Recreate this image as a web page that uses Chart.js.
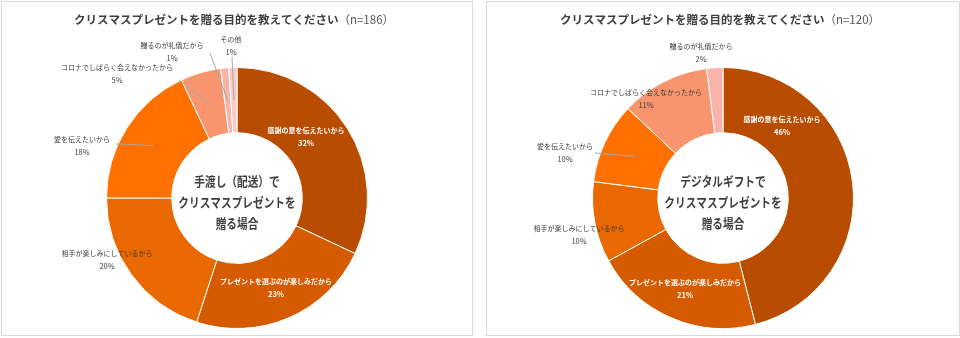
<!DOCTYPE html>
<html><head><meta charset="utf-8">
<script src="https://cdn.jsdelivr.net/npm/chart.js@4/dist/chart.umd.min.js"></script>
<style>
html,body{margin:0;padding:0;background:#fff;width:960px;height:338px;overflow:hidden}
.panel{position:absolute;box-sizing:border-box;border:1px solid #d9d9d9;background:#fff}
.panel div{position:absolute;left:0;top:0;right:0;bottom:0}
</style></head><body>
<div class="panel" style="left:1px;top:1px;width:472px;height:335px"><div><canvas id="c1"></canvas></div></div>
<div class="panel" style="left:486px;top:1px;width:474px;height:335px"><div><canvas id="c2"></canvas></div></div>
<script>
// ---- data ----
const categoriesLeft = ['感謝の意を伝えたいから','プレゼントを選ぶのが楽しみだから','相手が楽しみにしているから','愛を伝えたいから','コロナでしばらく会えなかったから','贈るのが礼儀だから','その他'];
const valuesLeft = [32, 23, 20, 18, 5, 1, 1];
const categoriesRight = ['感謝の意を伝えたいから','プレゼントを選ぶのが楽しみだから','相手が楽しみにしているから','愛を伝えたいから','コロナでしばらく会えなかったから','贈るのが礼儀だから'];
const valuesRight = [46, 21, 10, 10, 11, 2];
const titleMain = 'クリスマスプレゼントを贈る目的を教えてください';
const nLeft = '（n=186）';
const nRight = '（n=120）';
const centerLeft = ['手渡し（配送）で','クリスマスプレゼントを','贈る場合'];
const centerRight = ['デジタルギフトで','クリスマスプレゼントを','贈る場合'];

// ---- styles / layout ----
const colorMap = {
  '感謝の意を伝えたいから':'#B84C00',
  'プレゼントを選ぶのが楽しみだから':'#D55A00',
  '相手が楽しみにしているから':'#E96800',
  '愛を伝えたいから':'#FF7000',
  'コロナでしばらく会えなかったから':'#F8956E',
  '贈るのが礼儀だから':'#F9B3A8',
  'その他':'#FCCBC4'
};
// label block positions relative to doughnut centre (px); lead = leader line start, or null
const labelLayoutLeft = [
  {x:69,y:-61,inside:true},
  {x:39,y:90,inside:true},
  {x:-130,y:62},
  {x:-155,y:-52,lead:[-121,-54]},
  {x:-120,y:-124,lead:[-58,-118]},
  {x:-65,y:-146,lead:[-27,-145]},
  {x:-6,y:-152,lead:[-5,-141]}
];
const labelLayoutRight = [
  {x:59,y:-72,inside:true},
  {x:-38,y:91,inside:true},
  {x:-144,y:37},
  {x:-158,y:-45,lead:[-128,-45]},
  {x:-77,y:-99},
  {x:-22,y:-145}
];
const JP = '"Noto Sans CJK JP", "Noto Sans", sans-serif';

const decorPlugin = {
  id:'decor',
  afterDatasetsDraw(chart, args, opts){
    const ctx = chart.ctx;
    const meta = chart.getDatasetMeta(0);
    const arc0 = meta.data[0];
    const cx = arc0.x, cy = arc0.y;
    const labels = chart.data.labels;
    const vals = chart.data.datasets[0].data;
    ctx.save();
    // leader lines
    opts.layout.forEach((L,i)=>{
      if(!L.lead) return;
      const p = meta.data[i].getCenterPoint();
      ctx.strokeStyle = '#a6a6a6'; ctx.lineWidth = 1;
      ctx.beginPath(); ctx.moveTo(cx+L.lead[0], cy+L.lead[1]); ctx.lineTo(p.x, p.y); ctx.stroke();
    });
    // data labels
    ctx.textAlign = 'center'; ctx.textBaseline = 'middle';
    opts.layout.forEach((L,i)=>{
      const x = cx+L.x, y = cy+L.y;
      ctx.fillStyle = L.inside ? '#ffffff' : '#404040';
      ctx.font = (L.inside ? 'bold ' : '') + '7px ' + JP;
      ctx.fillText(labels[i], x, y-6.5);
      ctx.font = (L.inside ? 'bold ' : '') + '7.5px ' + JP;
      ctx.fillText(vals[i] + '%', x, y+6.5);
    });
    // centre text
    ctx.fillStyle = '#404040';
    ctx.font = 'bold 13px ' + JP;
    const ys = [-17, 4, 25];
    opts.center.forEach((t,k)=>{
      ctx.save();
      ctx.translate(cx, cy+ys[k]);
      ctx.scale(0.82,1);
      ctx.fillText(t, 0, 0);
      ctx.restore();
    });
    // title
    ctx.font = 'bold 11.5px ' + JP;
    const w1 = ctx.measureText(titleMain).width;
    ctx.font = '11.5px ' + JP;
    const w2 = ctx.measureText(opts.n).width;
    const tx = chart.width/2 - 3 - (w1+w2)/2;
    ctx.textAlign = 'left';
    ctx.fillStyle = '#404040';
    ctx.font = 'bold 11.5px ' + JP;
    ctx.fillText(titleMain, tx, 18);
    ctx.fillStyle = '#595959';
    ctx.font = '11.5px ' + JP;
    ctx.fillText(opts.n, tx+w1, 18);
    ctx.restore();
  }
};

function makeChart(id, cats, vals, layout, center, n){
  new Chart(document.getElementById(id), {
    type:'doughnut',
    data:{labels:cats, datasets:[{data:vals, backgroundColor:cats.map(c=>colorMap[c]), borderColor:'#ffffff', borderWidth:1}]},
    options:{
      responsive:true, maintainAspectRatio:false, animation:false,
      cutout:'50%',
      layout:{padding:{top:65,bottom:6,left:0,right:0}},
      plugins:{legend:{display:false}, tooltip:{enabled:false}, title:{display:false},
        decor:{layout:layout, center:center, n:n}}
    },
    plugins:[decorPlugin]
  });
}
makeChart('c1', categoriesLeft, valuesLeft, labelLayoutLeft, centerLeft, nLeft);
makeChart('c2', categoriesRight, valuesRight, labelLayoutRight, centerRight, nRight);
</script>
</body></html>
